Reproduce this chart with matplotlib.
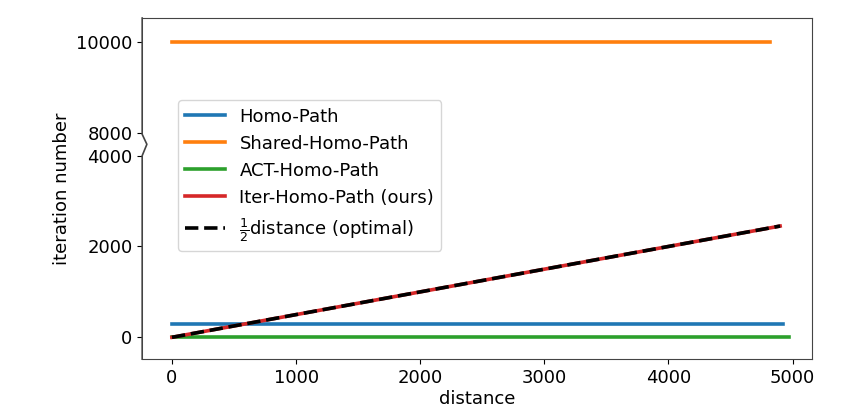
import matplotlib
matplotlib.use("Agg")
from matplotlib import pyplot as plt
import numpy as np

# values
homo_dist = [0, 4920]
homo_iter = [300, 300]
shared_dist = [0, 4820]
shared_iter = [10000, 10000]
act_dist = [0, 4970]
act_iter = [0, 0]
iter_dist = [0, 4900]
iter_iter = [0, 2450]
opt_dist = [0, 4900]
opt_iter = [0, 2450]

ytick_vals = [0, 2000, 4000, 8000, 10000]
xtick_vals = [0, 1000, 2000, 3000, 4000, 5000]

GAP_LO, GAP_HI, GAP_W = 4000, 8000, 500


def squash(y):
    # compress the empty range between 4000 and 8000
    y = np.asarray(y, dtype=float)
    return np.where(y > GAP_LO, y - (GAP_HI - GAP_LO) + GAP_W, y)


plt.rcParams['font.size'] = 13
fig, ax = plt.subplots(figsize=(8.67, 4.2), dpi=100)
fig.subplots_adjust(left=0.164, right=0.937, top=0.957, bottom=0.145)

ax.plot(homo_dist, squash(homo_iter), color='#1f77b4', lw=2.6, label='Homo-Path')
ax.plot(shared_dist, squash(shared_iter), color='#ff7f0e', lw=2.6, label='Shared-Homo-Path')
ax.plot(act_dist, squash(act_iter), color='#2ca02c', lw=2.6, label='ACT-Homo-Path')
ax.plot(iter_dist, squash(iter_iter), color='#d62728', lw=2.6, label='Iter-Homo-Path (ours)')
ax.plot(opt_dist, squash(opt_iter), color='black', lw=2.6, ls='--',
        label=r'$\frac{1}{2}$distance (optimal)')

ax.set_yticks(squash(ytick_vals))
ax.set_yticklabels([str(v) for v in ytick_vals])
ax.set_xticks(xtick_vals)
ax.set_xlim(-240, 5160)
ax.set_ylim(-480, 7030)

ax.set_xlabel('distance', labelpad=2)
ax.set_ylabel('iteration number')

for s in ax.spines.values():
    s.set_color('#444444')

# left spine with a break marker
ax.spines['left'].set_visible(False)
trans = ax.get_yaxis_transform()
lo, hi = squash(GAP_LO), squash(GAP_HI)
mid = (lo + hi) / 2
ax.plot([0, 0, 0.007, 0, 0], [7030, hi - 30, mid, lo, -480], color='#444444',
        lw=1.2, transform=trans, clip_on=False)

ax.legend(loc='upper left', bbox_to_anchor=(0.04, 0.785), fontsize=13,
          handlelength=2.2)

plt.savefig('out.png', dpi=100)
